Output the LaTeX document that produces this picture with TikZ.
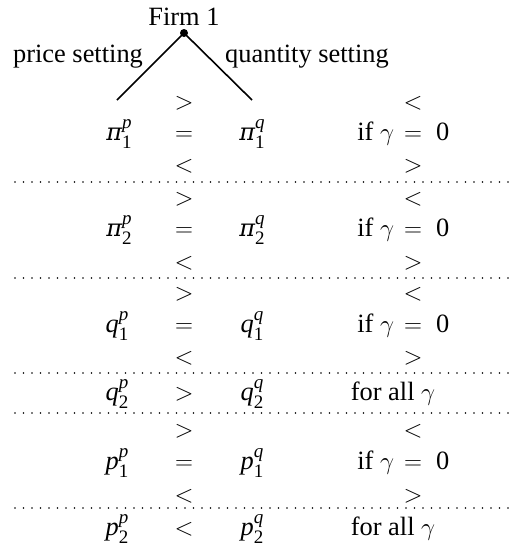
\documentclass[tikz,border=0pt]{standalone}
\usepackage{fontspec}
\setmainfont{Liberation Serif}
\newfontfamily\grk{DejaVu Serif}
\newcommand\pisym{{\grk\itshape\fontsize{24}{24}\selectfont π}}
\newcommand\vsym[3]{#1\rlap{\raisebox{12pt}{\fontsize{19}{19}\selectfont\textit{#2}}}\raisebox{-8.5pt}{\fontsize{19}{19}\selectfont #3}}
\tikzset{
  txt/.style={anchor=base,inner sep=0pt,outer sep=0pt,font=\fontsize{26.4}{30}\selectfont},
  sep/.style={line width=1.8pt,dash pattern=on 0pt off 8.5pt,line cap=round},
  branch/.style={line width=1.6pt},
}
\begin{document}
\begin{tikzpicture}[x=1pt,y=-1pt]
\useasboundingbox (0,0) rectangle (513,547);
% root
\node[circle,fill,inner sep=0pt,minimum size=8pt] (firm) at (184,33) {};
\node[txt] (firmlbl) at (184,25) {Firm 1};
\node[txt] (price) at (78,62) {price setting};
\node[txt] (quant) at (307,62) {quantity setting};
\coordinate (lend) at (117,100);
\coordinate (rend) at (252,100);
\draw[branch] (firm.center) -- (lend);
\draw[branch] (firm.center) -- (rend);
% block 1
\node[txt] (g1a) at (184,109) {$>$};
\node[txt] (h1a) at (413,109) {$<$};
\node[txt] (pi1p) at (119,140) {\vsym{\pisym}{p}{1}};
\node[txt] (e1) at (184,140) {$=$};
\node[txt] (pi1q) at (252,140) {\vsym{\pisym}{q}{1}};
\node[txt,anchor=base east] (if1) at (394,140) {if $\gamma$};
\node[txt] (r1) at (413,140) {$=$};
\node[txt,anchor=base west] (z1) at (436,140) {0};
\node[txt] (g1b) at (184,172) {$<$};
\node[txt] (h1b) at (413,172) {$>$};
\coordinate (s1l) at (15,182); \coordinate (s1r) at (508,182);
\draw[sep] (s1l) -- (s1r);
% block 2
\node[txt] (g2a) at (184,205) {$>$};
\node[txt] (h2a) at (413,205) {$<$};
\node[txt] (pi2p) at (119,236) {\vsym{\pisym}{p}{2}};
\node[txt] (e2) at (184,236) {$=$};
\node[txt] (pi2q) at (252,236) {\vsym{\pisym}{q}{2}};
\node[txt,anchor=base east] (if2) at (394,236) {if $\gamma$};
\node[txt] (r2) at (413,236) {$=$};
\node[txt,anchor=base west] (z2) at (436,236) {0};
\node[txt] (g2b) at (184,269) {$<$};
\node[txt] (h2b) at (413,269) {$>$};
\coordinate (s2l) at (15,278); \coordinate (s2r) at (508,278);
\draw[sep] (s2l) -- (s2r);
% block 3
\node[txt] (g3a) at (184,300) {$>$};
\node[txt] (h3a) at (413,300) {$<$};
\node[txt] (q1p) at (117,332) {\vsym{\textit{q}}{p}{1}};
\node[txt] (e3) at (184,332) {$=$};
\node[txt] (q1q) at (252,332) {\vsym{\textit{q}}{q}{1}};
\node[txt,anchor=base east] (if3) at (394,332) {if $\gamma$};
\node[txt] (r3) at (413,332) {$=$};
\node[txt,anchor=base west] (z3) at (436,332) {0};
\node[txt] (g3b) at (184,364) {$<$};
\node[txt] (h3b) at (413,364) {$>$};
\coordinate (s3l) at (15,373); \coordinate (s3r) at (508,373);
\draw[sep] (s3l) -- (s3r);
% row q2
\node[txt] (q2p) at (117,400) {\vsym{\textit{q}}{p}{2}};
\node[txt] (e4) at (184,400) {$>$};
\node[txt] (q2q) at (252,400) {\vsym{\textit{q}}{q}{2}};
\node[txt] (fa1) at (393,400) {for all $\gamma$};
\coordinate (s4l) at (15,413); \coordinate (s4r) at (508,413);
\draw[sep] (s4l) -- (s4r);
% block 5
\node[txt] (g5a) at (184,437) {$>$};
\node[txt] (h5a) at (413,437) {$<$};
\node[txt] (p1p) at (117,469) {\vsym{\textit{p}}{p}{1}};
\node[txt] (e5) at (184,469) {$=$};
\node[txt] (p1q) at (252,469) {\vsym{\textit{p}}{q}{1}};
\node[txt,anchor=base east] (if5) at (394,469) {if $\gamma$};
\node[txt] (r5) at (413,469) {$=$};
\node[txt,anchor=base west] (z5) at (436,469) {0};
\node[txt] (g5b) at (184,502) {$<$};
\node[txt] (h5b) at (413,502) {$>$};
\coordinate (s5l) at (15,508); \coordinate (s5r) at (508,508);
\draw[sep] (s5l) -- (s5r);
% row p2
\node[txt] (p2p) at (117,535) {\vsym{\textit{p}}{p}{2}};
\node[txt] (e6) at (184,535) {$<$};
\node[txt] (p2q) at (252,535) {\vsym{\textit{p}}{q}{2}};
\node[txt] (fa2) at (393,535) {for all $\gamma$};
\end{tikzpicture}
\end{document}
